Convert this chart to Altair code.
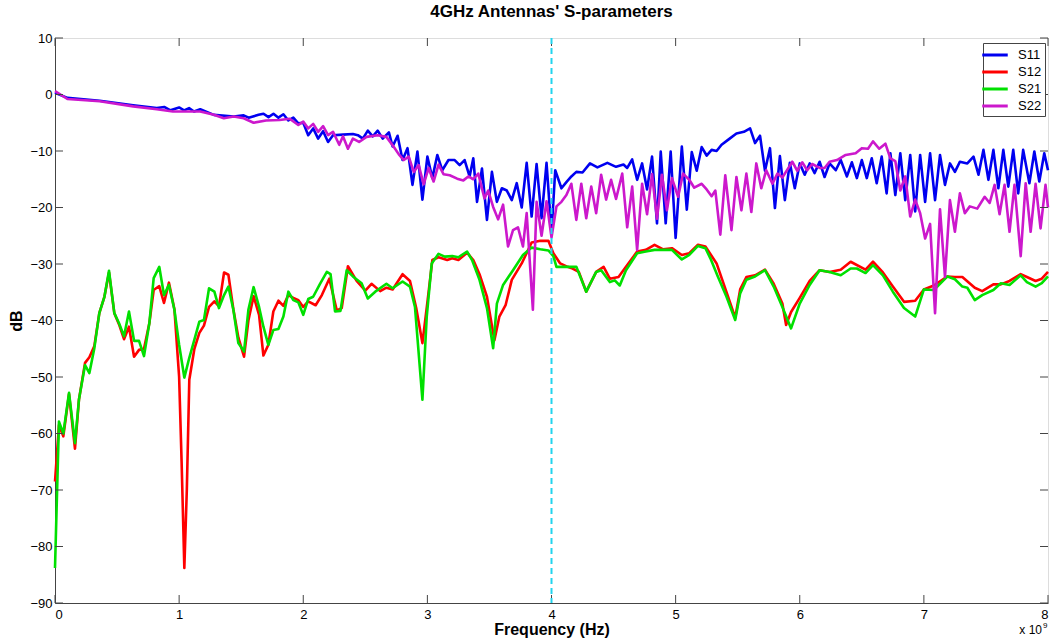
import altair as alt
import pandas as pd

# ---------------- data (frequency in GHz, value in dB) ----------------
s11_f = [0.00, 0.10, 0.36, 0.63, 0.82, 0.88, 0.93, 1.00, 1.04, 1.08, 1.12, 1.17, 1.28, 1.44, 1.52, 1.56,
         1.64, 1.68, 1.72, 1.76, 1.80, 1.84, 1.88, 1.92, 1.96, 2.00, 2.04, 2.08, 2.12, 2.16, 2.20, 2.24,
         2.32, 2.40, 2.44, 2.48, 2.52, 2.56, 2.60, 2.64, 2.69, 2.72, 2.76, 2.80, 2.84, 2.88, 2.92, 2.96,
         3.00, 3.04, 3.08, 3.12, 3.17, 3.22, 3.26, 3.30, 3.34, 3.37, 3.40, 3.44, 3.48, 3.52, 3.56, 3.60,
         3.64, 3.68, 3.72, 3.76, 3.80, 3.84, 3.88, 3.92, 3.96, 4.00, 4.03, 4.08, 4.12, 4.16, 4.20, 4.25,
         4.31, 4.37, 4.45, 4.52, 4.58, 4.61, 4.65, 4.69, 4.73, 4.77, 4.81, 4.85, 4.88, 4.92, 4.96, 5.00,
         5.05, 5.09, 5.13, 5.17, 5.21, 5.25, 5.29, 5.33, 5.37, 5.43, 5.49, 5.55, 5.60, 5.64, 5.68, 5.72,
         5.76, 5.80, 5.84, 5.88, 5.92, 5.96, 6.00, 6.04, 6.08, 6.12, 6.16, 6.20, 6.24, 6.29, 6.33, 6.38,
         6.42, 6.46, 6.50, 6.54, 6.58, 6.62, 6.66, 6.70, 6.73, 6.77, 6.81, 6.85, 6.89, 6.93, 6.97, 7.01,
         7.05, 7.09, 7.13, 7.17, 7.21, 7.25, 7.29, 7.35, 7.40, 7.44, 7.48, 7.52, 7.56, 7.60, 7.64, 7.68,
         7.72, 7.76, 7.80, 7.85, 7.89, 7.93, 7.97, 8.00]
s11_db = [0.3, -0.6, -1.1, -1.9, -2.4, -2.2, -2.8, -2.3, -2.8, -2.4, -3.0, -2.6, -3.6, -3.9, -3.7, -4.1,
          -3.6, -3.4, -4.0, -3.4, -4.1, -3.5, -4.6, -4.1, -5.1, -5.0, -7.2, -6.0, -7.8, -6.5, -8.4, -7.2,
          -7.1, -7.0, -7.2, -7.8, -6.4, -7.4, -6.4, -7.8, -6.7, -9.2, -7.3, -11.6, -9.5, -16.0, -10.1, -18.6,
          -11.0, -14.8, -10.7, -13.4, -11.6, -11.6, -12.5, -11.6, -14.5, -11.3, -19.0, -13.1, -22.2, -13.7, -19.0, -16.6,
          -17.0, -18.7, -15.7, -20.0, -12.1, -21.6, -12.3, -21.9, -12.1, -24.5, -13.4, -16.6, -15.5, -14.5, -13.7, -13.8,
          -12.2, -12.9, -12.1, -12.8, -12.4, -13.0, -11.5, -15.1, -12.2, -16.8, -11.0, -22.8, -10.1, -22.8, -10.1, -25.4,
          -9.2, -20.4, -10.2, -13.5, -9.3, -10.8, -9.8, -10.0, -8.9, -7.9, -6.9, -6.6, -6.0, -8.6, -7.3, -13.5,
          -9.5, -20.1, -10.9, -18.7, -12.1, -16.6, -12.2, -14.2, -12.2, -13.9, -11.9, -14.6, -12.2, -13.4, -11.6, -14.5,
          -12.0, -14.8, -11.6, -14.8, -11.3, -15.7, -11.0, -17.5, -10.4, -17.8, -10.4, -18.7, -10.7, -20.7, -10.7, -19.0,
          -10.4, -18.7, -10.7, -16.0, -12.2, -13.7, -11.9, -12.2, -11.0, -14.2, -9.8, -15.1, -9.8, -16.6, -9.8, -16.3,
          -9.8, -17.5, -9.8, -15.7, -10.1, -15.4, -10.4, -13.4]

s12_f = [0.00, 0.032, 0.067, 0.113, 0.161, 0.193, 0.242, 0.277, 0.317, 0.357, 0.398, 0.435, 0.478, 0.516,
         0.556, 0.596, 0.637, 0.677, 0.717, 0.76, 0.795, 0.84, 0.878, 0.918, 0.962, 1.00, 1.02, 1.042, 1.062,
         1.082, 1.123, 1.163, 1.20, 1.241, 1.284, 1.321, 1.362, 1.397, 1.437, 1.477, 1.523, 1.558, 1.60, 1.644,
         1.679, 1.719, 1.759, 1.80, 1.84, 1.88, 1.92, 1.961, 2.00, 2.04, 2.10, 2.15, 2.21, 2.27, 2.31, 2.36,
         2.43, 2.50, 2.55, 2.62, 2.67, 2.72, 2.80, 2.86, 2.91, 2.96, 3.00, 3.04, 3.09, 3.16, 3.20, 3.25,
         3.32, 3.37, 3.42, 3.48, 3.54, 3.58, 3.63, 3.68, 3.76, 3.84, 3.91, 3.975, 4.015, 4.07, 4.13, 4.17,
         4.22, 4.28, 4.36, 4.42, 4.47, 4.54, 4.60, 4.69, 4.76, 4.83, 4.90, 4.97, 5.05, 5.11, 5.18, 5.24,
         5.33, 5.41, 5.48, 5.52, 5.57, 5.64, 5.72, 5.79, 5.86, 5.89, 5.93, 6.00, 6.08, 6.16, 6.24, 6.33,
         6.41, 6.53, 6.59, 6.67, 6.75, 6.84, 6.93, 7.00, 7.08, 7.19, 7.25, 7.31, 7.41, 7.47, 7.56, 7.62,
         7.69, 7.78, 7.83, 7.90, 7.95, 8.00]
s12_db = [-68.5, -58.5, -60.5, -53.0, -62.7, -54.0, -47.5, -46.5, -44.5, -38.7, -35.8, -31.5, -38.7, -40.7,
          -43.3, -41.1, -46.4, -45.2, -45.0, -40.5, -34.6, -33.9, -36.9, -33.3, -38.0, -50.0, -65.0, -83.8, -70.0,
          -50.5, -45.0, -42.2, -40.9, -37.6, -36.6, -37.5, -31.5, -31.9, -38.0, -43.0, -46.4, -40.0, -35.7, -39.0,
          -46.2, -44.3, -38.4, -36.5, -37.4, -35.5, -36.0, -36.4, -37.6, -36.6, -37.3, -35.5, -32.6, -38.2, -37.8, -30.4,
          -33.0, -34.7, -33.5, -34.8, -34.2, -34.5, -31.8, -33.0, -37.8, -44.0, -36.8, -29.3, -28.8, -29.3, -29.0, -29.3,
          -28.0, -29.3, -31.8, -35.8, -43.5, -39.3, -37.3, -32.8, -29.9, -26.2, -25.9, -25.9, -28.1, -29.9, -30.5, -30.8,
          -31.4, -34.9, -31.4, -30.5, -32.6, -32.3, -30.5, -27.8, -27.5, -26.6, -27.4, -27.2, -28.4, -28.1, -26.6, -26.9,
          -29.9, -35.0, -39.5, -34.5, -32.3, -32.0, -31.0, -33.5, -37.0, -40.8, -38.5, -36.0, -33.0, -31.1, -31.4, -31.0,
          -29.6, -31.0, -29.6, -31.5, -34.0, -36.7, -36.5, -34.5, -33.8, -32.2, -32.3, -32.3, -34.2, -34.8, -33.6, -33.6,
          -33.0, -31.8, -32.3, -33.0, -32.6, -31.4]

s21_f = [0.00, 0.032, 0.067, 0.113, 0.161, 0.193, 0.242, 0.277, 0.317, 0.357, 0.398, 0.435, 0.478, 0.516,
         0.556, 0.596, 0.637, 0.677, 0.717, 0.76, 0.795, 0.84, 0.878, 0.918, 0.962, 1.00, 1.042, 1.082,
         1.123, 1.163, 1.20, 1.241, 1.284, 1.321, 1.362, 1.397, 1.437, 1.477, 1.523, 1.558, 1.60, 1.644,
         1.679, 1.719, 1.759, 1.80, 1.84, 1.88, 1.92, 1.961, 2.00, 2.04, 2.08, 2.135, 2.19, 2.22, 2.256,
         2.30, 2.35, 2.40, 2.47, 2.52, 2.58, 2.67, 2.72, 2.80, 2.86, 2.90, 2.96, 2.995, 3.035, 3.09, 3.14,
         3.20, 3.25, 3.32, 3.36, 3.42, 3.48, 3.53, 3.56, 3.61, 3.69, 3.77, 3.84, 3.91, 3.975, 4.015, 4.04,
         4.12, 4.20, 4.28, 4.36, 4.40, 4.47, 4.51, 4.55, 4.60, 4.69, 4.76, 4.83, 4.90, 4.97, 5.05, 5.11,
         5.18, 5.24, 5.28, 5.34, 5.41, 5.48, 5.52, 5.57, 5.64, 5.72, 5.79, 5.86, 5.93, 6.00, 6.08, 6.16,
         6.24, 6.33, 6.41, 6.46, 6.53, 6.59, 6.67, 6.75, 6.84, 6.93, 7.00, 7.08, 7.19, 7.25, 7.31, 7.35,
         7.41, 7.47, 7.56, 7.62, 7.69, 7.78, 7.83, 7.90, 7.95, 8.00]
s21_db = [-83.8, -57.9, -60.0, -52.8, -61.7, -54.0, -47.9, -49.3, -44.9, -38.7, -35.8, -31.2, -38.7, -40.5,
          -42.8, -38.4, -43.6, -43.6, -46.3, -40.5, -32.5, -30.5, -35.5, -33.7, -38.1, -44.3, -50.1, -46.6,
          -43.4, -40.2, -39.9, -34.3, -34.9, -37.8, -35.5, -34.0, -38.1, -44.0, -45.5, -38.1, -34.1, -37.6,
          -41.1, -44.3, -41.7, -41.5, -39.3, -34.9, -36.4, -36.8, -39.0, -36.2, -35.8, -33.5, -31.4, -31.8, -38.4,
          -38.3, -31.1, -32.2, -33.4, -36.1, -34.9, -33.5, -34.3, -33.1, -34.0, -37.6, -54.0, -39.3, -29.9, -28.2, -28.7,
          -28.6, -28.8, -27.8, -29.3, -32.8, -37.8, -44.9, -37.0, -33.7, -31.1, -28.4, -27.1, -27.4, -27.6, -28.6, -30.5,
          -30.5, -30.5, -34.9, -31.4, -31.1, -33.2, -32.9, -33.8, -31.1, -28.1, -27.8, -27.5, -27.5, -27.5, -29.2, -28.4,
          -26.8, -27.2, -29.0, -32.2, -35.8, -39.9, -35.2, -32.8, -32.2, -31.1, -34.0, -37.6, -41.4, -37.0, -33.7, -31.1,
          -31.4, -32.0, -30.8, -30.8, -31.6, -30.2, -32.0, -34.9, -37.8, -39.3, -34.5, -34.6, -32.2, -32.7, -34.0, -34.2,
          -36.4, -35.5, -34.6, -33.4, -33.7, -32.0, -33.2, -34.0, -33.4, -32.2]

s22_f = [0.00, 0.10, 0.36, 0.63, 0.82, 0.95, 1.17, 1.28, 1.36, 1.44, 1.52, 1.60, 1.70, 1.81, 1.89, 1.96,
         2.00, 2.04, 2.08, 2.12, 2.16, 2.20, 2.24, 2.29, 2.32, 2.36, 2.40, 2.45, 2.51, 2.60, 2.67, 2.73,
         2.77, 2.81, 2.85, 2.89, 2.93, 2.97, 3.01, 3.05, 3.09, 3.13, 3.18, 3.24, 3.29, 3.33, 3.37, 3.41,
         3.46, 3.49, 3.53, 3.57, 3.61, 3.65, 3.69, 3.73, 3.77, 3.80, 3.85, 3.88, 3.92, 3.96, 4.00, 4.04,
         4.08, 4.12, 4.16, 4.20, 4.24, 4.28, 4.32, 4.36, 4.40, 4.44, 4.48, 4.52, 4.57, 4.61, 4.65, 4.69,
         4.73, 4.77, 4.81, 4.85, 4.89, 4.93, 4.97, 5.02, 5.06, 5.11, 5.15, 5.21, 5.25, 5.29, 5.32, 5.36,
         5.40, 5.45, 5.49, 5.53, 5.57, 5.61, 5.65, 5.69, 5.73, 5.78, 5.82, 5.86, 5.90, 5.94, 5.98, 6.02,
         6.06, 6.10, 6.16, 6.20, 6.24, 6.30, 6.37, 6.45, 6.50, 6.55, 6.59, 6.64, 6.69, 6.73, 6.77, 6.81,
         6.85, 6.89, 6.93, 6.97, 7.01, 7.05, 7.09, 7.13, 7.17, 7.21, 7.25, 7.29, 7.33, 7.37, 7.43, 7.49,
         7.53, 7.57, 7.61, 7.65, 7.69, 7.73, 7.78, 7.82, 7.86, 7.90, 7.94, 7.98, 8.00]
s22_db = [0.6, -0.8, -1.2, -2.1, -2.6, -3.0, -3.0, -3.6, -4.2, -3.9, -4.2, -5.0, -4.6, -4.5, -4.3, -5.4,
          -4.8, -6.0, -5.2, -6.6, -5.6, -7.2, -6.6, -8.9, -7.4, -9.6, -7.8, -8.4, -7.5, -7.2, -7.5, -9.3,
          -10.6, -11.6, -11.0, -13.7, -12.5, -15.9, -13.0, -15.4, -12.4, -14.1, -14.3, -14.9, -15.2, -14.5, -15.0, -14.0,
          -18.4, -17.0, -19.9, -22.1, -19.5, -26.9, -24.0, -23.5, -26.9, -21.0, -38.1, -19.0, -25.0, -18.9, -25.3, -19.8,
          -19.0, -17.8, -15.8, -22.2, -15.8, -21.9, -16.3, -21.0, -14.2, -18.6, -15.1, -18.5, -14.0, -23.5, -16.3, -27.5,
          -15.8, -21.2, -14.1, -22.0, -14.2, -20.5, -14.8, -18.1, -14.0, -15.1, -16.5, -15.8, -16.8, -18.0, -17.0, -24.8,
          -14.3, -24.0, -14.6, -20.5, -14.0, -20.8, -12.2, -16.6, -13.4, -15.8, -14.0, -14.7, -13.3, -11.9, -13.5, -12.0,
          -13.4, -12.3, -13.0, -13.0, -11.9, -11.6, -10.7, -10.4, -9.5, -9.6, -8.3, -9.6, -8.7, -11.3, -11.8, -17.0,
          -14.5, -21.6, -18.6, -21.0, -25.5, -22.9, -38.7, -20.3, -32.3, -18.7, -24.3, -17.5, -21.0, -19.8, -20.2, -18.1,
          -19.2, -16.0, -21.2, -16.0, -24.3, -16.0, -28.6, -15.7, -24.3, -15.8, -23.7, -16.0, -20.0]

series_names = ["S11", "S12", "S21", "S22"]
series_colors = ["#0000f0", "#ff0000", "#00e000", "#cc18cc"]
marker_freq = [4.0]
x_ticks = [0, 1, 2, 3, 4, 5, 6, 7, 8]
y_ticks = [-90, -80, -70, -60, -50, -40, -30, -20, -10, 0, 10]

# ---------------- tables ----------------
frames = []
for name, fs, vs in zip(series_names, [s11_f, s12_f, s21_f, s22_f], [s11_db, s12_db, s21_db, s22_db]):
    frames.append(pd.DataFrame({"series": name, "f": fs, "dB": vs}))
df = pd.concat(frames, ignore_index=True)

W, H = 993, 565
FONT = "Liberation Sans"
AXC = "#444444"

xscale = alt.Scale(domain=[0, 8], nice=False, zero=False)
yscale = alt.Scale(domain=[-90, 10], nice=False, zero=False)

lines = alt.Chart(df).mark_line(strokeWidth=2.6, strokeJoin="round").encode(
    x=alt.X("f:Q", scale=xscale,
            axis=alt.Axis(values=x_ticks, format="d", title="Frequency (Hz)", grid=False, tickSize=0,
                          labelPadding=5, labelFontSize=13, labelColor="black",
                          titleFontSize=16, titleFontWeight="bold", titleColor="black",
                          titleY=31, titleBaseline="alphabetic",
                          domainColor=AXC, labelFont=FONT, titleFont=FONT)),
    y=alt.Y("dB:Q", scale=yscale,
            axis=alt.Axis(values=y_ticks, title="dB", grid=False, tickSize=0,
                          labelPadding=3, labelFontSize=13, labelColor="black",
                          titleFontSize=16, titleFontWeight="bold", titleColor="black",
                          titlePadding=5, domainColor=AXC, labelFont=FONT, titleFont=FONT)),
    color=alt.Color("series:N",
                    scale=alt.Scale(domain=series_names, range=series_colors),
                    legend=alt.Legend(title=None, orient="none", legendX=928, legendY=5,
                                      symbolType="M-1.7,0H1.7", symbolSize=225,
                                      symbolStrokeWidth=3, labelOffset=14,
                                      labelFontSize=13, labelFont=FONT, labelColor="black",
                                      rowPadding=1, padding=3, strokeColor=AXC,
                                      fillColor="white", offset=0)),
)

xt = pd.DataFrame({"f": x_ticks})
yt = pd.DataFrame({"dB": y_ticks})
tick_len = 8
xb = alt.Chart(xt).mark_rule(color=AXC, strokeWidth=1).encode(
    x=alt.X("f:Q", scale=xscale), y=alt.value(H), y2=alt.value(H - tick_len))
xtp = alt.Chart(xt).mark_rule(color=AXC, strokeWidth=1).encode(
    x=alt.X("f:Q", scale=xscale), y=alt.value(0), y2=alt.value(tick_len))
yl = alt.Chart(yt).mark_rule(color=AXC, strokeWidth=1).encode(
    y=alt.Y("dB:Q", scale=yscale), x=alt.value(0), x2=alt.value(tick_len))
yr = alt.Chart(yt).mark_rule(color=AXC, strokeWidth=1).encode(
    y=alt.Y("dB:Q", scale=yscale), x=alt.value(W), x2=alt.value(W - tick_len))

marker = alt.Chart(pd.DataFrame({"f": marker_freq})).mark_rule(
    color="#22d4ee", strokeWidth=2, strokeDash=[6, 4]).encode(x=alt.X("f:Q", scale=xscale))

exp_base = alt.Chart(pd.DataFrame({"t": ["x 10"]})).mark_text(
    font=FONT, fontSize=12, align="right", baseline="alphabetic", color="black").encode(
    text="t:N", x=alt.value(W - 6), y=alt.value(H + 31))
exp_pow = alt.Chart(pd.DataFrame({"t": ["9"]})).mark_text(
    font=FONT, fontSize=8, align="left", baseline="alphabetic", color="black").encode(
    text="t:N", x=alt.value(W - 5), y=alt.value(H + 25))

chart = alt.layer(lines, xb, xtp, yl, yr, marker, exp_base, exp_pow).properties(
    width=W, height=H,
    title=alt.Title("4GHz Antennas' S-parameters", font=FONT, fontSize=17, fontWeight="bold",
                    color="black", offset=11, anchor="middle"),
    autosize=alt.AutoSizeParams(type="none"),
    padding={"left": 55, "top": 38, "right": 5, "bottom": 35},
).configure_view(stroke=AXC, strokeWidth=1).configure(background="white")

chart.save("out.html", embed_options={"renderer": "svg", "actions": False})
